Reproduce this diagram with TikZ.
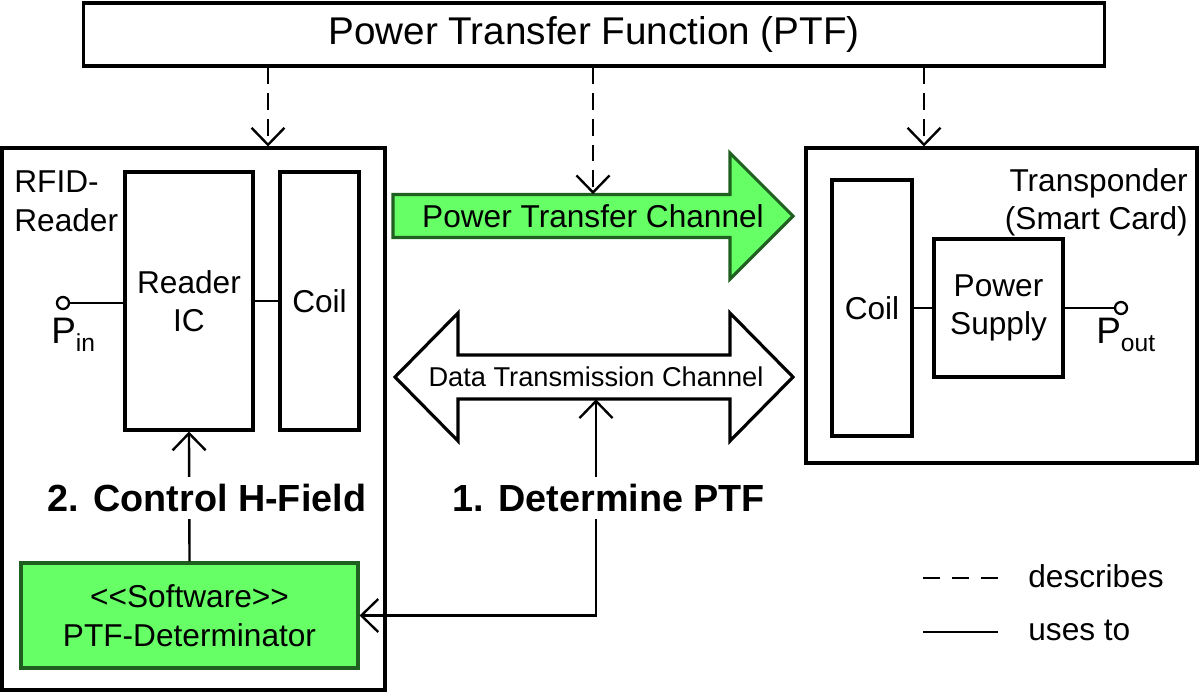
\documentclass[tikz,border=0pt]{standalone}
\usepackage{fontspec}
\setmainfont{Liberation Sans}
\usepackage{tikz}
\usetikzlibrary{arrows.meta}
\usetikzlibrary{positioning}

\definecolor{chgreen}{HTML}{66FF66}
\definecolor{chedge}{HTML}{1F5F1F}

\tikzset{
    >={Straight Barb[length=3.4mm, width=6.6mm]},
    blockbox/.style={draw, line width=1.8pt, inner sep=0pt, align=center},
    describes/.style={->, line width=1.35pt, dash pattern=on 9.6pt off 5pt},
    usesto/.style={line width=1.35pt},
    port/.style={circle, draw, line width=1.3pt, fill=white, minimum size=0.24cm, inner sep=0pt},
    steplabel/.style={fill=white, inner sep=4pt, font=\bfseries\fontsize{21.5}{24}\selectfont}
}

\begin{document}
\begin{tikzpicture}[x=0.02cm, y=-0.02cm, font=\fontsize{18}{21.5}\selectfont]
    \useasboundingbox (0,0) rectangle (1200,694);
    \node[blockbox, minimum width=20.44cm, minimum height=1.26cm, font=\fontsize{22}{26}\selectfont] (ptf) at (594,34.5) {Power Transfer Function (PTF)};
    \node[blockbox, minimum width=7.66cm, minimum height=10.84cm] (reader) at (193.5,419) {};
    \node[blockbox, minimum width=7.82cm, minimum height=6.3cm] (trans) at (1001.5,305.5) {};
    \node[anchor=north west, align=left, inner sep=0pt, font=\fontsize{18}{22.5}\selectfont] (readerlbl) at (14,170) {RFID-\\Reader};
    \node[anchor=north east, align=right, inner sep=0pt] (translbl) at (1188,168) {Transponder\\(Smart Card)};

    \node[blockbox, minimum width=2.56cm, minimum height=5.16cm] (ic) at (189,301) {Reader\\IC};
    \node[blockbox, minimum width=1.58cm, minimum height=5.16cm] (coilL) at (319.5,301) {Coil};
    \node[blockbox, minimum width=1.6cm, minimum height=5.12cm] (coilR) at (872,308) {Coil};
    \node[blockbox, minimum width=2.58cm, minimum height=2.76cm] (ps) at (998.5,308) {Power\\Supply};
    \node[blockbox, fill=chgreen, draw=chedge, minimum width=6.74cm, minimum height=2.1cm, font=\fontsize{18}{22.5}\selectfont] (det) at (189.5,615.5) {<{}<Software>{}>\\PTF-Determinator};

    \node[port] (pin) at (63,303) {};
    \node[port] (pout) at (1121,308) {};
    \node[anchor=base west, inner sep=0pt] (pinlbl) at (51,343) {\fontsize{21}{21}\selectfont P\raisebox{-5pt}{\fontsize{14}{14}\selectfont in}};
    \node[anchor=base west, inner sep=0pt] (poutlbl) at (1096,343) {\fontsize{21}{21}\selectfont P\raisebox{-5pt}{\fontsize{14}{14}\selectfont out}};

    \filldraw[fill=chgreen, draw=chedge, line width=1.8pt] (393,194.5) -- (730,194.5) -- (730,153) -- (793,216) -- (730,279) -- (730,237.5) -- (393,237.5) -- cycle;
    \node[inner sep=0pt, minimum width=6.8cm, minimum height=0.86cm] (ptc) at (593,216) {Power Transfer Channel};
    \filldraw[fill=white, draw=black, line width=1.8pt] (395,377) -- (458,313) -- (458,355) -- (730,355) -- (730,313) -- (793,377) -- (730,441) -- (730,399) -- (458,399) -- (458,441) -- cycle;
    \node[inner sep=0pt, minimum height=0.88cm, font=\fontsize{15.5}{18}\selectfont] (dtc) at (596,377) {Data Transmission Channel};

    \coordinate (dL) at (268,0);
    \coordinate (dR) at (924,0);
    \draw[describes] (ptf.south -| dL) -- (reader.north -| dL);
    \draw[describes] (ptf.south -| ptc.north) -- (ptc.north);
    \draw[describes] (ptf.south -| dR) -- (trans.north -| dR);

    \draw[usesto] (pin) -- (pin -| ic.west);
    \draw[usesto] (ic) -- (coilL);
    \draw[usesto] (coilR) -- (ps);
    \draw[usesto] (ps.east |- pout) -- (pout);
    \draw[usesto, ->] (det.north) -- (ic.south);
    \draw[usesto, <->] (det.east) -| (dtc.south);
    \node[steplabel] (ctrl) at (207,498) {2. Control H-Field};
    \node[steplabel] (detptf) at (609,498) {1. Determine PTF};

    \coordinate (lgA1) at (923,578);
    \coordinate (lgA2) at (998,578);
    \coordinate (lgB1) at (923,632);
    \coordinate (lgB2) at (998,632);
    \draw[usesto, dash pattern=on 9.6pt off 6.8pt] (lgA1) -- (lgA2);
    \draw[usesto] (lgB1) -- (lgB2);
    \node[anchor=base west, inner sep=0pt] (lgAtxt) at (1028,587) {describes};
    \node[anchor=base west, inner sep=0pt] (lgBtxt) at (1028,640) {uses to};
\end{tikzpicture}
\end{document}
